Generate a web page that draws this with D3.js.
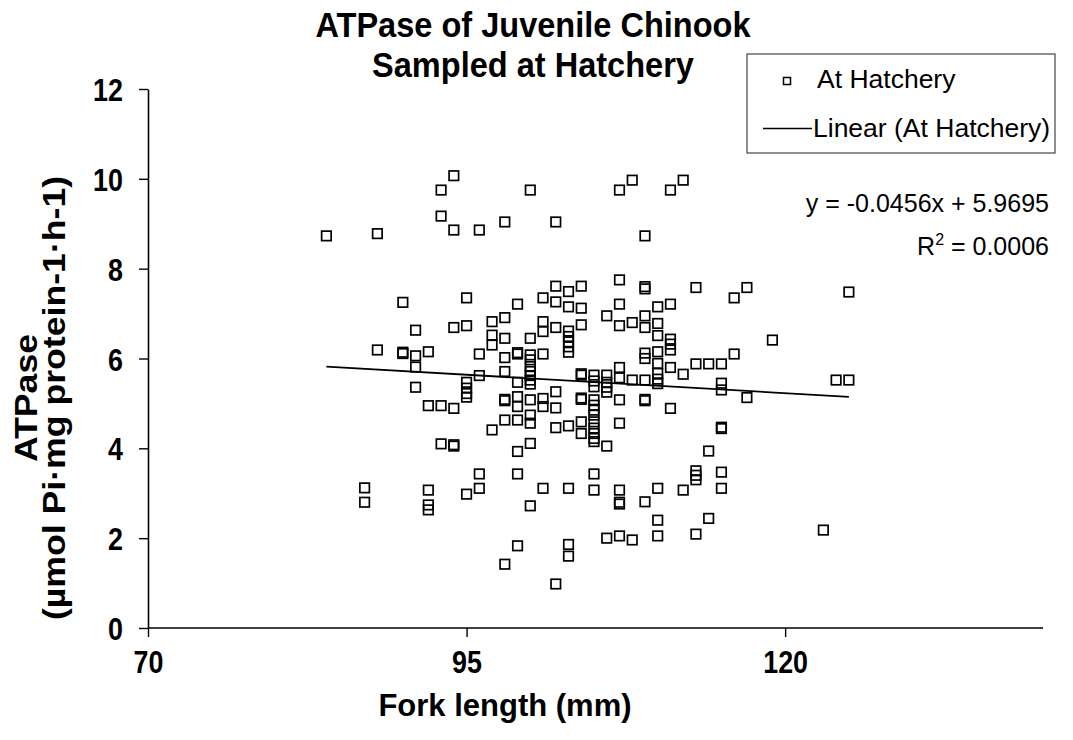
<!DOCTYPE html>
<html>
<head>
<meta charset="utf-8">
<script src="https://cdn.jsdelivr.net/npm/d3@7"></script>
<style>
  body { margin: 0; background: #fff; }
  text { font-family: "Liberation Sans", Arial, sans-serif; fill: #000; }
</style>
</head>
<body>
<svg id="chart"></svg>
<script>
// fork length (mm) and ATPase
const forkLength = [
  94, 93, 93, 94, 96, 84, 88, 90, 95,
  100, 107, 108, 111, 98, 102, 109, 99, 101, 102, 102, 103, 104, 103, 104, 107, 109, 109, 107, 110, 111,
  112, 113, 116, 117, 125,
  91, 94, 95, 97, 97, 97, 88, 90, 90, 91, 92, 96, 91, 96, 95, 95, 95, 95, 91, 92, 93, 94, 97, 93, 94, 94,
  98, 101, 101, 102, 103, 103, 103, 103, 103, 104, 106, 107, 108, 109, 109, 110, 110, 111, 111, 111,
  98, 100, 98, 99, 99, 100, 100, 100, 100, 100, 100, 100, 101, 98, 99, 104, 104, 105, 105, 105,
  106, 106, 106, 106, 107, 107, 108, 109, 109, 109, 110, 110, 110, 110, 110, 111, 111,
  98, 98, 99, 99, 100, 101, 101, 102, 102, 104, 104,
  105, 105, 105, 105, 105, 105, 105, 105, 105, 107, 109, 109,
  98, 99, 100, 100, 102, 103, 104, 104, 107, 106, 100, 99,
  112, 113, 114, 115, 116, 119, 115, 115, 117, 124, 125, 115, 115, 114,
  96, 96, 95, 87, 87, 92, 92, 92,
  99, 101, 103, 105, 105, 107, 107, 107, 109, 110, 110, 110, 100, 106, 107, 108, 99, 103, 103, 98, 102,
  113, 113, 113, 115, 115, 112, 114, 113, 123
];
const atpase = [
  10.07, 9.75, 9.17, 8.86, 8.86, 8.73, 8.78, 7.25, 7.35,
  9.75, 9.75, 9.97, 9.75, 9.04, 9.04, 8.73, 7.21, 7.35, 7.61, 7.26, 7.49, 7.61, 7.15, 7.12, 7.75, 7.60, 7.55, 7.21, 7.15, 7.21,
  9.97, 7.58, 7.35, 7.58, 7.48,
  6.63, 6.69, 6.73, 6.82, 6.52, 6.30, 6.19, 6.14, 6.11, 6.06, 6.15, 6.10, 5.81, 5.62, 5.47, 5.34, 5.22, 5.14, 5.36, 4.95, 4.95, 4.89, 4.41, 4.10, 4.08, 4.05,
  6.91, 6.82, 6.60, 6.69, 6.61, 6.49, 6.37, 6.26, 6.14, 6.75, 6.95, 6.73, 6.80, 6.95, 6.69, 6.78, 6.51, 6.43, 6.32, 6.19,
  6.45, 6.45, 6.02, 6.13, 6.10, 6.08, 5.97, 5.82, 5.71, 5.62, 5.52, 5.43, 6.10, 5.71, 5.47, 5.66, 5.63, 5.63, 5.50, 5.37,
  5.63, 5.47, 5.36, 5.25, 5.80, 5.57, 5.52, 5.52, 6.12, 6.00, 6.15, 5.89, 5.67, 5.54, 5.44, 5.80, 4.89,
  5.09, 5.06, 5.15, 4.93, 5.08, 5.11, 4.93, 5.26, 4.90, 5.12, 5.09,
  5.08, 4.96, 4.85, 4.74, 4.59, 4.45, 4.33, 4.22, 4.15, 5.08, 5.09, 5.06,
  4.63, 4.63, 4.74, 4.56, 4.46, 4.50, 4.59, 4.33, 4.56, 4.05, 4.11, 3.93,
  5.65, 5.88, 5.88, 5.88, 6.10, 6.41, 5.45, 5.30, 5.13, 5.52, 5.52, 4.47, 4.44, 3.94,
  3.43, 3.11, 2.98, 3.12, 2.80, 3.07, 2.74, 2.63,
  3.43, 3.11, 3.11, 3.43, 3.07, 3.07, 2.80, 2.76, 2.81, 3.11, 2.40, 2.05, 2.72, 2.00, 2.05, 1.96, 1.83, 1.86, 1.60, 1.42, 0.98,
  3.50, 3.40, 3.30, 3.47, 3.11, 3.07, 2.44, 2.09, 2.18
];

// trend line as drawn in the picture (not the printed equation)
const trendIntercept = 7.19;
const trendSlope = -0.01634;

const xTicks = [70, 95, 120];
const yTicks = [0, 2, 4, 6, 8, 10, 12];
const titleLines = ['ATPase of Juvenile Chinook', 'Sampled at Hatchery'];
const yLabelLines = ['ATPase', '(µmol Pi·mg protein-1·h-1)'];
const xLabel = 'Fork length (mm)';
const legendItems = ['At Hatchery', 'Linear (At Hatchery)'];
const equationText = 'y = -0.0456x + 5.9695';

const width = 1073, height = 740;
const margin = {top: 89, right: 33, bottom: 112, left: 148};

const svg = d3.select('#chart')
  .attr('width', width)
  .attr('height', height);

const x = d3.scaleLinear().domain([70, 140]).range([margin.left, 1040]);
const y = d3.scaleLinear().domain([0, 12]).range([height - margin.bottom, margin.top]);

const points = forkLength.map((d, i) => ({x: d, y: atpase[i]}));

// the bold text in the picture is taller than it is wide
const boldSx = 0.84;

// axes
const xAxis = d3.axisBottom(x).tickValues(xTicks).tickSize(9).tickSizeOuter(0).tickFormat(d3.format('d'));
const yAxis = d3.axisLeft(y).tickValues(yTicks).tickSize(9).tickSizeOuter(0).tickFormat(d3.format('d'));

const xg = svg.append('g')
  .attr('transform', `translate(0, ${y(0)})`)
  .call(xAxis);
xg.select('.domain').attr('d', `M${x(70)},0H1043`);

const yg = svg.append('g')
  .attr('transform', `translate(${x(70)}, 0)`)
  .call(yAxis);

[xg, yg].forEach(g => {
  g.select('.domain').attr('stroke', '#000').attr('stroke-width', 1.6);
  g.selectAll('.tick line').attr('stroke', '#000').attr('stroke-width', 1.4);
  g.selectAll('.tick text')
    .attr('fill', '#000')
    .attr('transform', `scale(${boldSx}, 1)`)
    .style('font-family', '"Liberation Sans", Arial, sans-serif')
    .style('font-weight', 'bold')
    .style('font-size', '32px');
});
xg.selectAll('.tick text').attr('y', 45).attr('dy', 0);
yg.selectAll('.tick text').attr('x', -25 / boldSx).attr('dy', '0.36em');

// trend line
const xExt = d3.extent(forkLength);
svg.append('path')
  .attr('d', d3.line().x(d => x(d)).y(d => y(trendIntercept + trendSlope * d))(xExt))
  .attr('stroke', '#000')
  .attr('stroke-width', 1.8)
  .attr('fill', 'none');

// markers
const ms = 9.5;
svg.append('g').selectAll('rect')
  .data(points)
  .join('rect')
  .attr('x', d => x(d.x) - ms / 2)
  .attr('y', d => y(d.y) - ms / 2)
  .attr('width', ms)
  .attr('height', ms)
  .attr('fill', 'none')
  .attr('stroke', '#000')
  .attr('stroke-width', 1.7);

// title
svg.append('g')
  .attr('transform', 'translate(533, 0) scale(0.93, 1)')
  .append('text')
  .attr('text-anchor', 'middle')
  .style('font-size', '35px')
  .style('font-weight', 'bold')
  .selectAll('tspan')
  .data(titleLines)
  .join('tspan')
  .attr('x', 0)
  .attr('y', (d, i) => 37 + i * 40)
  .text(d => d);

// x label
svg.append('text')
  .attr('text-anchor', 'middle')
  .attr('x', 505)
  .attr('y', 716)
  .style('font-size', '31px')
  .style('font-weight', 'bold')
  .text(xLabel);

// y label
svg.append('g')
  .attr('transform', 'translate(0, 398) rotate(-90) scale(1.15, 1)')
  .append('text')
  .attr('text-anchor', 'middle')
  .style('font-size', '31px')
  .style('font-weight', 'bold')
  .selectAll('tspan')
  .data(yLabelLines)
  .join('tspan')
  .attr('x', 0)
  .attr('y', (d, i) => 37 + i * 28)
  .text(d => d);

// legend
const legend = svg.append('g');
legend.append('rect')
  .attr('x', 747).attr('y', 54)
  .attr('width', 308).attr('height', 99)
  .attr('fill', '#fff')
  .attr('stroke', '#444')
  .attr('stroke-width', 1.2);
legend.append('rect')
  .attr('x', 783.5).attr('y', 77.5)
  .attr('width', 7).attr('height', 7)
  .attr('fill', 'none')
  .attr('stroke', '#000')
  .attr('stroke-width', 1.5);
legend.append('line')
  .attr('x1', 763).attr('x2', 812)
  .attr('y1', 128.5).attr('y2', 128.5)
  .attr('stroke', '#000')
  .attr('stroke-width', 1.6);
legend.selectAll('text.leg')
  .data(legendItems)
  .join('text')
  .attr('class', 'leg')
  .attr('x', (d, i) => i === 0 ? 817 : 813)
  .attr('y', (d, i) => 88 + i * 49)
  .style('font-size', '26.5px')
  .text(d => d);

// equation
svg.append('text')
  .attr('text-anchor', 'end')
  .attr('x', 1049)
  .attr('y', 212)
  .style('font-size', '25px')
  .text(equationText);
const r2 = svg.append('text')
  .attr('text-anchor', 'end')
  .attr('x', 1049)
  .attr('y', 255)
  .style('font-size', '25px');
r2.append('tspan').text('R');
r2.append('tspan').attr('dy', -10).style('font-size', '16px').text('2');
r2.append('tspan').attr('dy', 10).text(' = 0.0006');
</script>
</body>
</html>
